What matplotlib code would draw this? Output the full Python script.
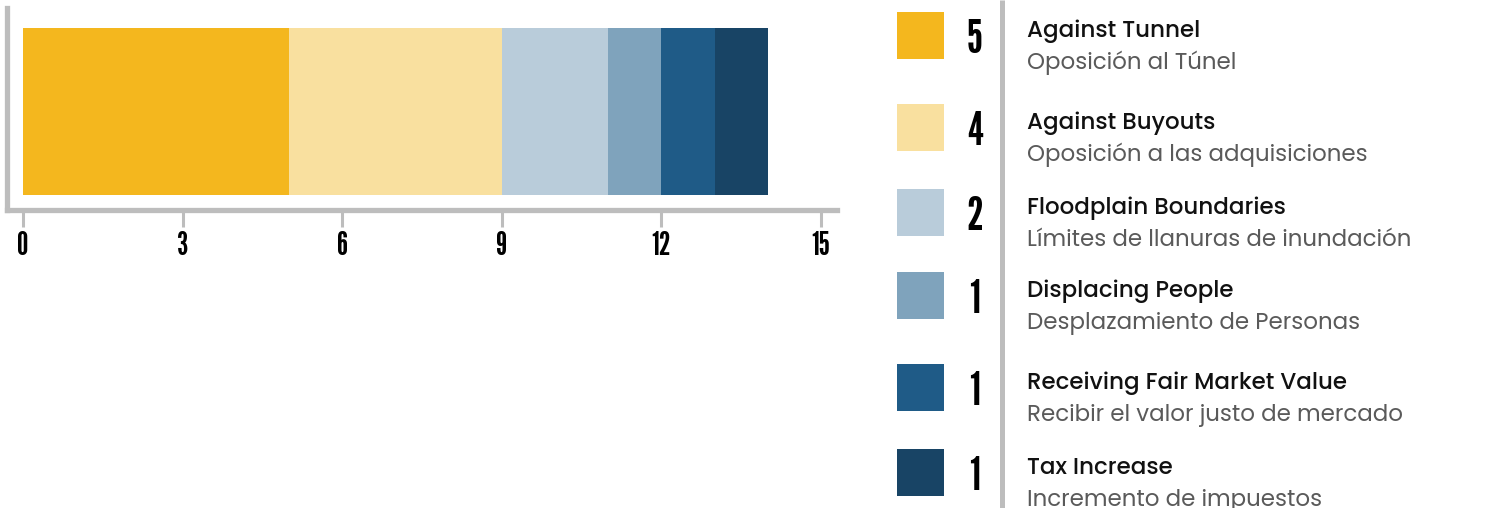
import matplotlib.pyplot as plt
from matplotlib.patches import Rectangle

# data
labels_en = ['Against Tunnel', 'Against Buyouts', 'Floodplain Boundaries',
             'Displacing People', 'Receiving Fair Market Value', 'Tax Increase']
labels_es = ['Oposición al Túnel', 'Oposición a las adquisiciones',
             'Límites de llanuras de inundación', 'Desplazamiento de Personas',
             'Recibir el valor justo de mercado', 'Incremento de impuestos']
counts = [5, 4, 2, 1, 1, 1]
colors = ['#F4B71E', '#F9E09F', '#B9CCDA', '#7FA3BC', '#1F5B87', '#184465']
xticks = [0, 3, 6, 9, 12, 15]

W, H = 1500, 508
fig = plt.figure(figsize=(W / 100, H / 100), dpi=100)

NUMFONT = ['League Gothic', 'DejaVu Sans']
TXTFONT = ['Poppins', 'DejaVu Sans']
gray = '#bdbdbd'

# stacked horizontal bar
ax = fig.add_axes([6.5 / W, (H - 209.5) / H, (837 - 6.5) / W, (209.5 - 8) / H])
left = 0
for c, col in zip(counts, colors):
    ax.barh(0, c, left=left, height=0.8, color=col, linewidth=0)
    left += c

ax.set_xlim(-0.31, 15.30)
ax.set_ylim(-0.4695, 0.4958)
ax.set_yticks([])
ax.set_xticks(xticks)
ax.set_xticklabels([str(t) for t in xticks], family=NUMFONT, fontsize=23)
ax.tick_params(axis='x', direction='out', length=12.5, width=2.2, color=gray,
               pad=3, labelcolor='black')
for s in ['top', 'right']:
    ax.spines[s].set_visible(False)
for s in ['left', 'bottom']:
    ax.spines[s].set_color(gray)
    ax.spines[s].set_linewidth(3.8)

# legend drawn in pixel space
lg = fig.add_axes([0, 0, 1, 1])
lg.set_xlim(0, W)
lg.set_ylim(H, 0)
lg.axis('off')
lg.patch.set_alpha(0)

lg.plot([1001.7, 1001.7], [0, H], color=gray, lw=3.6, solid_capstyle='butt')

row_top = [12, 104, 189, 272, 364, 449]
for i in range(len(counts)):
    y0 = row_top[i]
    lg.add_patch(Rectangle((897, y0), 47, 47, color=colors[i], lw=0))
    lg.text(975, y0 + 41.3, str(counts[i]), family=NUMFONT,
            fontsize=33, ha='center', va='baseline', color='black')
    lg.text(1027, y0 + 25.3, labels_en[i], family=TXTFONT, fontweight='medium',
            fontsize=16.5, ha='left', va='baseline', color='#111111')
    lg.text(1027, y0 + 57.3, labels_es[i], family=TXTFONT, fontweight='normal',
            fontsize=16.5, ha='left', va='baseline', color='#5a5a5a')

fig.savefig('out.png', dpi=100)
